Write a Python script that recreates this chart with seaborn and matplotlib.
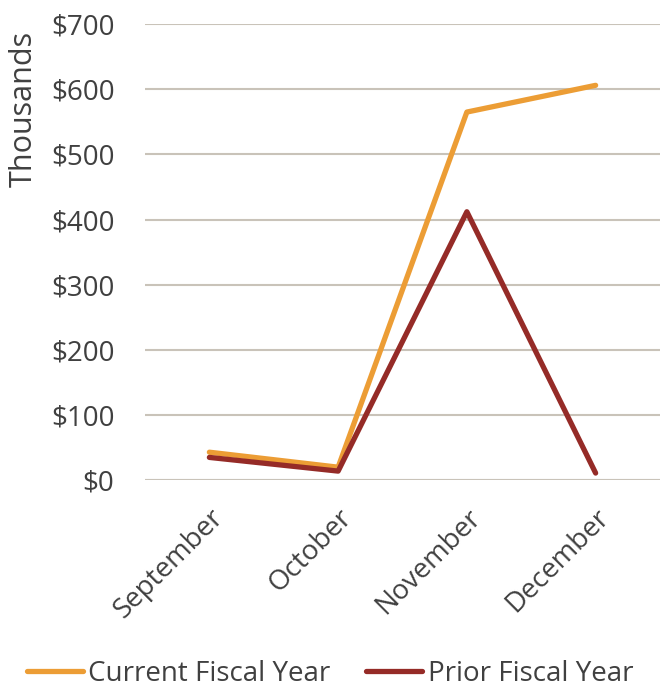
import matplotlib
matplotlib.use("Agg")
import matplotlib.pyplot as plt
import seaborn as sns
import pandas as pd
from matplotlib.lines import Line2D

months = ["September", "October", "November", "December"]
current_fy = [43, 20, 565, 606]
prior_fy = [35, 14, 412, 11]
series_names = ["Current Fiscal Year", "Prior Fiscal Year"]
y_ticks = [0, 100, 200, 300, 400, 500, 600, 700]
y_tick_labels = ["$0", "$100", "$200", "$300", "$400", "$500", "$600", "$700"]

df = pd.DataFrame({
    "month": months * 2,
    "value": current_fy + prior_fy,
    "series": [series_names[0]] * 4 + [series_names[1]] * 4,
})

sns.set_theme(style="white")
plt.rcParams["font.family"] = ["Open Sans", "DejaVu Sans"]
text_color = "#404040"
fs = 20

fig = plt.figure(figsize=(6.6, 6.88), dpi=100)
ax = fig.add_axes([0.2197, 0.302, 0.7803, 0.663])

palette = {series_names[0]: "#EC9D35", series_names[1]: "#952B27"}
sns.lineplot(data=df, x="month", y="value", hue="series", palette=palette,
             linewidth=3.8, ax=ax, sort=False, legend=False,
             solid_capstyle="round", solid_joinstyle="round")

ax.set_xlim(-0.5, 3.5)
ax.set_ylim(0, 700)
ax.set_yticks(y_ticks)
ax.set_yticklabels(y_tick_labels, fontsize=fs, color=text_color)
ax.set_xticks(range(len(months)))
ax.set_xticklabels(months, rotation=45, ha="right", rotation_mode="anchor",
                   fontsize=fs, color=text_color)
ax.tick_params(axis="y", pad=22, length=0)
ax.tick_params(axis="x", pad=17, length=0)
ax.yaxis.grid(True, color="#C9C3B9", linewidth=1.5)
ax.set_axisbelow(True)
for s in ax.spines.values():
    s.set_visible(False)
ax.axhline(0, color="#D9D9D9", linewidth=1.5, zorder=0)
ax.set_xlabel("")
ax.set_ylabel("Thousands", fontsize=22, color=text_color, loc="top")
ax.yaxis.set_label_coords(-0.206, 0.985)

handles = [Line2D([0], [0], color=palette[n], linewidth=3.8, solid_capstyle="round") for n in series_names]
fig.legend(handles, series_names, loc="lower center", bbox_to_anchor=(0.5, -0.036),
           ncol=2, frameon=False, fontsize=fs, handlelength=2.0, handletextpad=0.2,
           columnspacing=1.3, labelcolor=text_color)

fig.savefig("out.png", dpi=100)
